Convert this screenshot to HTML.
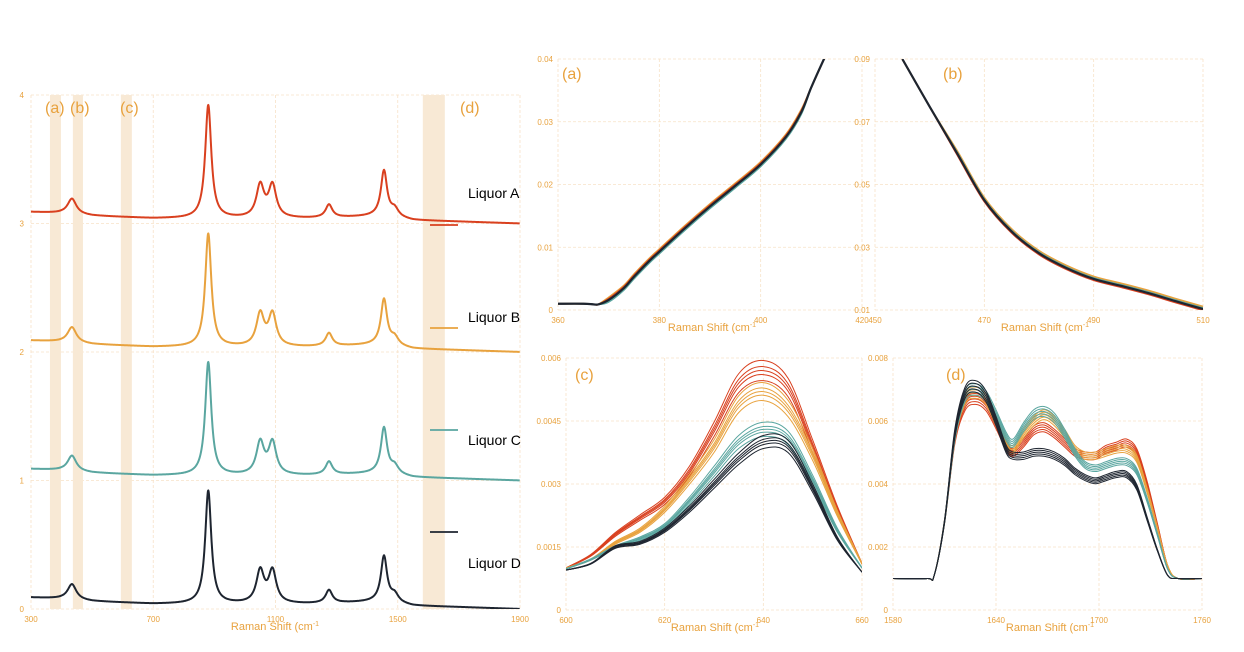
<!DOCTYPE html>
<html><head><meta charset="utf-8">
<style>
body{margin:0;background:#fff;}
svg{display:block;font-family:"Liberation Sans",sans-serif;}
.tick{fill:#e8a23e;font-size:8px;}
.ttl{fill:#e8a23e;font-size:11px;}
.plab{fill:#e8a23e;font-size:16px;}
.grid{stroke:#f7e2c8;stroke-width:0.8;stroke-dasharray:3,2;}
.leg{fill:#000;font-size:14px;}
</style></head>
<body>
<svg id="chart" width="1244" height="652"></svg>
<script>
const NS="http://www.w3.org/2000/svg";
const svg=document.getElementById('chart');
const COLORS=['#d9401f','#e8a23e','#5aa6a0','#1e2530'];
const liquors=['Liquor A','Liquor B','Liquor C','Liquor D'];
// ---- left panel data
const fullOffsets=[3,2,1,0];
const baseX=[300,400,500,600,700,800,1000,1200,1350,1450,1550,1700,1900];
const baseY=[0.09,0.08,0.06,0.05,0.04,0.04,0.04,0.04,0.05,0.06,0.025,0.015,0.0];
const peakPos=[434,880,1050,1090,1275,1455,1490];
const peakHeight=[0.12,0.88,0.25,0.25,0.1,0.35,0.06];
const peakWidth=[17,12,15,15,13,12,15];
const bands=[[362,398],[437,470],[594,630],[1582,1654]];
const bandLabels=['(a)','(b)','(c)','(d)'];
// ---- panel a
const aX=[360,365,367,368,370,373,375,378,380,385,390,395,400,405,408,410,412.5,414];
const aY=[0.001,0.001,0.0009,0.0009,0.0016,0.0035,0.0053,0.0078,0.0093,0.013,0.0165,0.0198,0.0232,0.0276,0.0315,0.0355,0.04,0.0425];
const aOff=[0.0002,0.0004,-0.0003,0];
// ---- panel b
const bX=[455,460,465,470,475,480,485,490,495,500,505,510];
const bY=[0.09,0.0748,0.06,0.045,0.035,0.0281,0.0234,0.0199,0.0177,0.0154,0.0128,0.0103];
const bOff=[-0.0004,0.0008,0.0003,0];
// ---- panel c
const cX=[600,605,610,615,620,625,630,635,640,645,650,655,660];
const cRed=[0.001,0.0013,0.0018,0.0022,0.0026,0.0033,0.0043,0.0054,0.0057,0.0053,0.0039,0.0024,0.0011];
const cOrange=[0.001,0.0012,0.0016,0.0019,0.0024,0.0031,0.0039,0.0049,0.0052,0.0048,0.0037,0.0023,0.0011];
const cTeal=[0.00098,0.0012,0.0015,0.0017,0.002,0.0026,0.0033,0.004,0.0043,0.0041,0.0031,0.0019,0.001];
const cBlack=[0.00095,0.0011,0.0015,0.0016,0.0019,0.0024,0.003,0.0036,0.004,0.0039,0.0029,0.0017,0.0009];
const cScales=[0.95,0.98,1.0,1.02,1.05];
// ---- panel d
const dX=[1580,1600,1604,1610,1616,1622,1628,1634,1640,1646,1650,1656,1662,1668,1674,1680,1686,1692,1698,1704,1710,1716,1722,1728,1734,1740,1746,1760];
const dRed=[0.001,0.001,0.0011,0.0028,0.0054,0.0065,0.0067,0.0065,0.0059,0.0052,0.005,0.0053,0.0057,0.0058,0.0056,0.0053,0.005,0.0049,0.0049,0.0051,0.0052,0.0053,0.005,0.004,0.0027,0.0014,0.001,0.001];
const dOrange=[0.001,0.001,0.0011,0.0028,0.0055,0.0067,0.0069,0.0067,0.006,0.0053,0.0051,0.0056,0.006,0.0062,0.006,0.0056,0.0051,0.0049,0.0049,0.005,0.0051,0.0051,0.0048,0.0038,0.0026,0.0014,0.001,0.001];
const dTeal=[0.001,0.001,0.0011,0.0028,0.0055,0.0068,0.007,0.0068,0.0062,0.0055,0.0053,0.0058,0.0062,0.0063,0.0061,0.0056,0.005,0.0046,0.0045,0.0046,0.0047,0.0047,0.0044,0.0035,0.0024,0.0013,0.001,0.001];
const dBlack=[0.001,0.001,0.0011,0.0028,0.0056,0.0069,0.0071,0.0068,0.006,0.0051,0.0049,0.0049,0.005,0.005,0.0049,0.0047,0.0044,0.0042,0.0041,0.0042,0.0043,0.0043,0.0039,0.0029,0.0019,0.0011,0.001,0.001];
const dScales=[0.97,0.985,1.0,1.015,1.03];

function el(tag,attrs,parent){const e=document.createElementNS(NS,tag);for(const k in attrs)e.setAttribute(k,attrs[k]);(parent||svg).appendChild(e);return e;}
function txt(s,x,y,cls,anchor,parent){const t=el('text',{x:x,y:y,class:cls,'text-anchor':anchor||'start'},parent);t.textContent=s;return t;}
function smooth(pts){let d='M'+pts[0][0].toFixed(2)+','+pts[0][1].toFixed(2);
 for(let i=0;i<pts.length-1;i++){const p0=pts[Math.max(0,i-1)],p1=pts[i],p2=pts[i+1],p3=pts[Math.min(pts.length-1,i+2)];
 const c1=[p1[0]+(p2[0]-p0[0])/6,p1[1]+(p2[1]-p0[1])/6],c2=[p2[0]-(p3[0]-p1[0])/6,p2[1]-(p3[1]-p1[1])/6];
 d+='C'+c1[0].toFixed(2)+','+c1[1].toFixed(2)+' '+c2[0].toFixed(2)+','+c2[1].toFixed(2)+' '+p2[0].toFixed(2)+','+p2[1].toFixed(2);}return d;}
function interp(xs,ys,x){if(x<=xs[0])return ys[0];for(let i=0;i<xs.length-1;i++){if(x<=xs[i+1]){const t=(x-xs[i])/(xs[i+1]-xs[i]);return ys[i]+t*(ys[i+1]-ys[i]);}}return ys[ys.length-1];}

function makePanel(name,x0,x1,y0,y1,xmin,xmax,ymin,ymax,xticks,yticks,ylabels,label,lx,ly,tx){
 const g=el('g',{});
 
 
 const sx=v=>x0+(v-xmin)/(xmax-xmin)*(x1-x0);
 const sy=v=>y1-(v-ymin)/(ymax-ymin)*(y1-y0);
 const clipId=name+'-clip';
 const cp=el('clipPath',{id:clipId},g);el('rect',{x:x0,y:y0,width:x1-x0,height:y1-y0},cp);
 xticks.forEach(v=>{const l=el('line',{x1:sx(v),x2:sx(v),y1:y0,y2:y1,class:'grid'},g);
  const t=txt(String(v),sx(v),y1+13,'tick','middle',g);});
 yticks.forEach((v,i)=>{const l=el('line',{x1:x0,x2:x1,y1:sy(v),y2:sy(v),class:'grid'},g);
  const t=txt(ylabels[i],x0-5,sy(v)+3,'tick','end',g);});
 const at=txt('Raman Shift (cm',tx,y1+21,'ttl','middle',g);
 const sup=el('tspan',{'font-size':'7','dy':'-4'},at);sup.textContent='-1';
 const series=el('g',{'clip-path':'url(#'+clipId+')'},g);
 if(label){const pl=txt(label,lx,ly,'plab','start',g);}
 return {g,sx,sy,series};
}
function drawLine(parent,pts,color,w,name){const p=el('path',{d:smooth(pts),fill:'none',stroke:color,'stroke-width':w,'stroke-linejoin':'round'},parent);
 return p;}

// ===== Left panel
const L=makePanel('full-spectrum-panel',31,520,95,609,300,1900,0,4,[300,700,1100,1500,1900],[0,1,2,3,4],['0','1','2','3','4'],null,0,0,275);
L.g.querySelectorAll('.tick').forEach(t=>{if(t.getAttribute('text-anchor')==='end'){t.setAttribute('x',24);}});
bands.forEach((b,i)=>{const r=el('rect',{x:L.sx(b[0]),y:95,width:L.sx(b[1])-L.sx(b[0]),height:514,fill:'#f8e9d5'},L.g);L.g.insertBefore(r,L.series);
 });
const bandLabX=[45,70,120,460];
bandLabels.forEach((s,i)=>{const t=txt(s,bandLabX[i],113,'plab','start',L.g);});
function spectrum(x){let y=interp(baseX,baseY,x);for(let k=0;k<peakPos.length;k++){const d=(x-peakPos[k])/peakWidth[k];y+=peakHeight[k]/(1+d*d);}return y;}
fullOffsets.forEach((off,i)=>{const pts=[];for(let x=300;x<=1900;x+=3)pts.push([L.sx(x),L.sy(off+spectrum(x))]);
 drawLine(L.series,pts,COLORS[i],2,'spectrum-'+'abcd'[i]);});
const legY=[225,328,430,532],legTY=[198,322,445,568];
liquors.forEach((n,i)=>{const l=el('line',{x1:430,x2:458,y1:legY[i],y2:legY[i],stroke:COLORS[i],'stroke-width':1.8});
 
 const t=txt(n,468,legTY[i],'leg','start');});

// ===== Panel a
const A=makePanel('panel-a',558,862,59,310,360,420,0,0.04,[360,380,400,420],[0,0.01,0.02,0.03,0.04],['0','0.01','0.02','0.03','0.04'],'(a)',562,79,712);
[1,0,2,3].forEach(i=>drawLine(A.series,aX.map((x,j)=>[A.sx(x),A.sy(aY[j]+(j>3&&j<15?aOff[i]:0))]),COLORS[i],i==3?2.2:1.8,'panel-a-line'));
// ===== Panel b
const B=makePanel('panel-b',875,1203,59,310,450,510,0.01,0.09,[450,470,490,510],[0.01,0.03,0.05,0.07,0.09],['0.01','0.03','0.05','0.07','0.09'],'(b)',943,79,1045);
[1,2,0,3].forEach(i=>drawLine(B.series,bX.map((x,j)=>[B.sx(x),B.sy(bY[j]+(j>1?bOff[i]:0))]),COLORS[i],i==3?2.2:1.8,'panel-b-line'));
// ===== Panel c
const C=makePanel('panel-c',566,862,358,610,600,660,0,0.006,[600,620,640,660],[0,0.0015,0.003,0.0045,0.006],['0','0.0015','0.003','0.0045','0.006'],'(c)',575,380,715);
[cRed,cOrange,cTeal,cBlack].forEach((arr,i)=>cScales.forEach(s=>drawLine(C.series,cX.map((x,j)=>[C.sx(x),C.sy(0.0009+(arr[j]-0.0009)*s)]),COLORS[i],1,'panel-c-line')));
// ===== Panel d
const D=makePanel('panel-d',893,1202,358,610,1580,1760,0,0.008,[1580,1640,1700,1760],[0,0.002,0.004,0.006,0.008],['0','0.002','0.004','0.006','0.008'],'(d)',946,380,1050);
[dRed,dOrange,dTeal,dBlack].forEach((arr,i)=>dScales.forEach(s=>drawLine(D.series,dX.map((x,j)=>[D.sx(x),D.sy(0.001+(arr[j]-0.001)*s)]),COLORS[i],1,'panel-d-line')));
</script>
</body></html>
